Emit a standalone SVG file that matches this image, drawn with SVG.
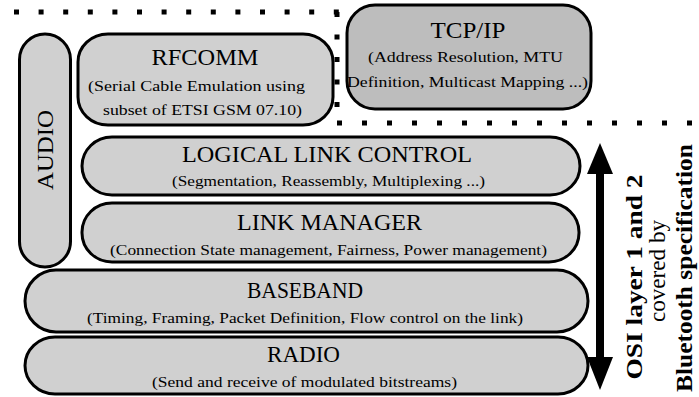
<svg xmlns="http://www.w3.org/2000/svg" width="699" height="397" viewBox="0 0 699 397">
<style>
.box{fill:#d0d0d0;stroke:#000;stroke-width:3}
.tcp{fill:#bdbdbd}
.t{font-family:"Liberation Serif","Times New Roman",serif;fill:#000;text-anchor:middle}
.title{font-size:24px}
.sub{font-size:15px}
.dots{fill:none;stroke:#000;stroke-width:5}
.side{font-size:24px}
</style>
<rect width="699" height="397" fill="#fff"/>
<g id="boundaries">
<path class="dots" d="M14,12 H340" stroke-dasharray="5 19.6"/>
<path class="dots" d="M337,12 V124" stroke-dasharray="5 17.5"/>
<path class="dots" d="M337,123 H699" stroke-dasharray="5 20"/>
</g>
<g id="audio">
<rect class="box" x="19.5" y="34" width="51" height="233" rx="25.5" ry="25.5"/>
<text class="t title" transform="translate(53,150) rotate(-90)" textLength="80" lengthAdjust="spacingAndGlyphs">AUDIO</text>
</g>
<g id="rfcomm">
<rect class="box" x="78" y="34" width="255" height="91" rx="30" ry="28"/>
<text class="t title" x="205" y="65" textLength="107" lengthAdjust="spacingAndGlyphs">RFCOMM</text>
<text class="t sub" x="196.5" y="91" textLength="217" lengthAdjust="spacingAndGlyphs">(Serial Cable Emulation using</text>
<text class="t sub" x="202.5" y="115" textLength="199" lengthAdjust="spacingAndGlyphs">subset of ETSI GSM 07.10)</text>
</g>
<g id="tcpip">
<rect class="box tcp" x="347" y="5" width="244" height="104" rx="28" ry="28"/>
<text class="t title" x="468" y="38" textLength="75" lengthAdjust="spacingAndGlyphs">TCP/IP</text>
<text class="t sub" x="465.5" y="62" textLength="195" lengthAdjust="spacingAndGlyphs">(Address Resolution, MTU</text>
<text class="t sub" x="467.5" y="87" textLength="241" lengthAdjust="spacingAndGlyphs">Definition, Multicast Mapping ...)</text>
</g>
<g id="llc">
<rect class="box" x="82" y="137" width="498" height="58" rx="30" ry="29"/>
<text class="t title" x="327" y="162" textLength="290" lengthAdjust="spacingAndGlyphs">LOGICAL LINK CONTROL</text>
<text class="t sub" x="328.5" y="186" textLength="313" lengthAdjust="spacingAndGlyphs">(Segmentation, Reassembly, Multiplexing ...)</text>
</g>
<g id="lm">
<rect class="box" x="82" y="203" width="497" height="59" rx="30" ry="29"/>
<text class="t title" x="329.5" y="230" textLength="185" lengthAdjust="spacingAndGlyphs">LINK MANAGER</text>
<text class="t sub" x="328.5" y="255" textLength="437" lengthAdjust="spacingAndGlyphs">(Connection State management, Fairness, Power management)</text>
</g>
<g id="baseband">
<rect class="box" x="25" y="270" width="563" height="62" rx="31" ry="31"/>
<text class="t title" x="305" y="298" textLength="116" lengthAdjust="spacingAndGlyphs">BASEBAND</text>
<text class="t sub" x="305" y="323" textLength="436" lengthAdjust="spacingAndGlyphs">(Timing, Framing, Packet Definition, Flow control on the link)</text>
</g>
<g id="radio">
<rect class="box" x="25" y="337" width="563" height="57" rx="30" ry="28.5"/>
<text class="t title" x="303.5" y="362" textLength="73" lengthAdjust="spacingAndGlyphs">RADIO</text>
<text class="t sub" x="304.5" y="387" textLength="305" lengthAdjust="spacingAndGlyphs">(Send and receive of modulated bitstreams)</text>
</g>
<g id="connectors">
<rect x="596" y="170" width="8" height="190" fill="#000"/>
<polygon points="600,143 613,174 587,174" fill="#000"/>
<polygon points="600,390 613,357 587,357" fill="#000"/>
</g>
<g id="scope-label">
<text class="t side" font-weight="bold" transform="translate(642,277) rotate(-90)" textLength="205" lengthAdjust="spacingAndGlyphs">OSI layer 1 and 2</text>
<text class="t side" font-size="22" transform="translate(665,271) rotate(-90)" textLength="102" lengthAdjust="spacingAndGlyphs">covered by</text>
<text class="t side" font-weight="bold" font-size="23" transform="translate(692,268) rotate(-90)" textLength="248" lengthAdjust="spacingAndGlyphs">Bluetooth specification</text>
</g>
</svg>
